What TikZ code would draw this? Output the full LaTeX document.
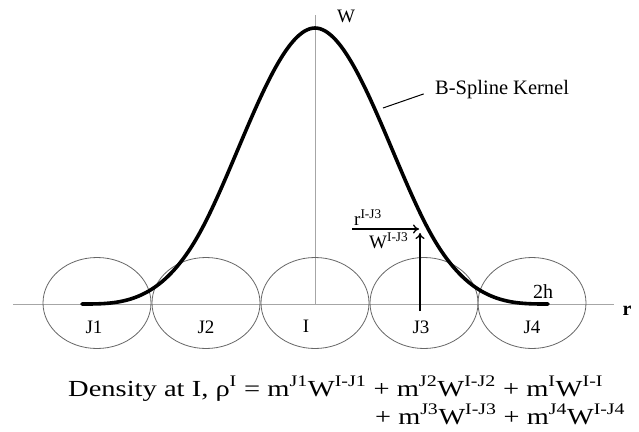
\documentclass[tikz,border=0pt]{standalone}
\usepackage{fontspec}
\usepackage{graphicx}
\setmainfont{Liberation Serif}
\usetikzlibrary{shapes.geometric,arrows.meta}
\newcommand\spr[1]{\textsuperscript{#1}}
\tikzset{
 axisline/.style={draw=black!35, line width=1pt},
 particle/.style={ellipse, draw=black!60, line width=0.8pt, minimum width=108pt, minimum height=91pt, inner sep=0pt},
 lbl/.style={font=\fontsize{19}{22}\selectfont, inner sep=0pt},
 eqn/.style={font=\fontsize{23}{27}\selectfont, inner sep=0pt, anchor=base west},
 kernel/.style={line width=3.6pt, line cap=round},
 vec/.style={line width=1.3pt, -{To[length=6pt,width=9pt]}},
 leader/.style={line width=1pt},
 declare function={kern(\q)=(\q<1) ? (1-1.5*\q*\q+0.75*\q*\q*\q) : (0.25*(2-\q)*(2-\q)*(2-\q));}
}
\begin{document}
\begin{tikzpicture}[x=1pt,y=-1pt]
\useasboundingbox (0,0) rectangle (639,431);
% axes
\coordinate (xl) at (13,304);
\coordinate (xr) at (614,304);
\coordinate (yb) at (315,304);
\coordinate (yt) at (315,15);
\draw[axisline] (xl) -- (xr);
\draw[axisline] (yb) -- (yt);
\node[lbl] (W) at (346,16) {W};
\node[lbl, font=\fontsize{20}{22}\selectfont\bfseries] (r) at (627,311) {r};
% particles
\node[particle] (J1) at (97,303) {};
\node[particle] (J2) at (206,303) {};
\node[particle] (I) at (315,303) {};
\node[particle] (J3) at (424,303) {};
\node[particle] (J4) at (532,303) {};
\node[lbl] (tJ1) at (94,327) {J1};
\node[lbl] (tJ2) at (206,327) {J2};
\node[lbl] (tI) at (306,326) {I};
\node[lbl] (tJ3) at (421,327) {J3};
\node[lbl] (tJ4) at (532,327) {J4};
% kernel
\draw[kernel] plot[domain=82:548, samples=181, smooth] (\x, {304-276*kern(abs(\x-315)/116.5)});
\node[lbl, font=\fontsize{20}{22}\selectfont] (h2) at (543,292) {2h};
% label leader
\node[lbl, font=\fontsize{20.5}{24}\selectfont, anchor=west] (bsk) at (435,90) {B-Spline Kernel};
\coordinate (lead) at (383,108);
\draw[leader, shorten >=12pt] (lead) -- (bsk.west);
% vectors
\coordinate (ra) at (352,229);
\coordinate (rb) at (419,229);
\coordinate (wa) at (420,311);
\coordinate (wb) at (420,233);
\draw[vec] (ra) -- (rb);
\draw[vec] (wa) -- (wb);
\node[lbl, anchor=base west] (rlab) at (354,225) {r\spr{I-J3}};
\node[lbl, anchor=base west] (wlab) at (369,248) {W\spr{I-J3}};
% density
\node[eqn] (eq1) at (68,396) {\resizebox{535pt}{\height}{Density at I, ρ\spr{I} = m\spr{J1}W\spr{I-J1} + m\spr{J2}W\spr{I-J2} + m\spr{I}W\spr{I-I}}};
\node[eqn] (eq2) at (375,424) {\resizebox{250pt}{\height}{+ m\spr{J3}W\spr{I-J3} + m\spr{J4}W\spr{I-J4}}};
\end{tikzpicture}
\end{document}
